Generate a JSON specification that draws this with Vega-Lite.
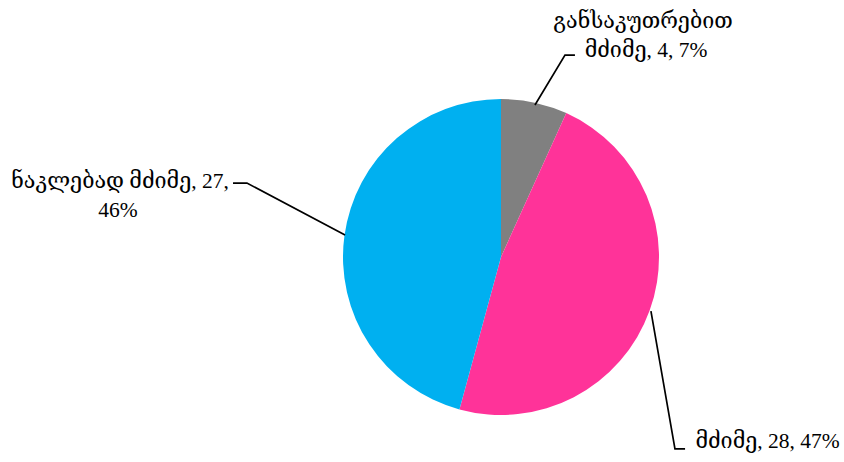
{
  "$schema": "https://vega.github.io/schema/vega-lite/v6.json",
  "width": 316,
  "height": 316,
  "autosize": {"type": "none"},
  "padding": {"left": 343, "top": 99, "right": 185, "bottom": 47},
  "background": "white",
  "config": {"view": {"stroke": null}},
  "datasets": {
    "slices": [
      {"category": "განსაკუთრებით მძიმე", "value": 4, "ord": 1},
      {"category": "მძიმე", "value": 28, "ord": 2},
      {"category": "ნაკლებად მძიმე", "value": 27, "ord": 3}
    ],
    "leaders": [
      {"series": "g", "idx": 1, "px": 0.215, "py": 0.962},
      {"series": "g", "idx": 2, "px": 0.405, "py": 1.278},
      {"series": "g", "idx": 3, "px": 0.468, "py": 1.278},
      {"series": "b", "idx": 1, "px": -0.987, "py": 0.139},
      {"series": "b", "idx": 2, "px": -1.608, "py": 0.468},
      {"series": "b", "idx": 3, "px": -1.696, "py": 0.468},
      {"series": "p", "idx": 1, "px": 0.949, "py": -0.342},
      {"series": "p", "idx": 2, "px": 1.101, "py": -1.215},
      {"series": "p", "idx": 3, "px": 1.165, "py": -1.215}
    ],
    "labels": [
      {"text": "განსაკუთრებით", "px": 0.899, "py": 1.449},
      {"text": "მძიმე, 4, 7%", "px": 0.918, "py": 1.266},
      {"text": "ნაკლებად მძიმე, 27,", "px": -2.411, "py": 0.437},
      {"text": "46%", "px": -2.424, "py": 0.253},
      {"text": "მძიმე, 28, 47%", "px": 1.687, "py": -1.209}
    ]
  },
  "layer": [
    {
      "data": {"name": "slices"},
      "mark": {"type": "arc", "outerRadius": 158},
      "encoding": {
        "theta": {"field": "value", "type": "quantitative", "stack": true},
        "order": {"field": "ord", "type": "quantitative"},
        "color": {
          "field": "category",
          "type": "nominal",
          "legend": null,
          "scale": {
            "domain": ["განსაკუთრებით მძიმე", "მძიმე", "ნაკლებად მძიმე"],
            "range": ["#808080", "#FF3399", "#00B0F0"]
          }
        }
      }
    },
    {
      "data": {"name": "leaders"},
      "mark": {"type": "line", "color": "black", "strokeWidth": 1.7},
      "encoding": {
        "x": {"field": "px", "type": "quantitative", "axis": null, "scale": {"domain": [-1, 1], "nice": false, "zero": false}},
        "y": {"field": "py", "type": "quantitative", "axis": null, "scale": {"domain": [-1, 1], "nice": false, "zero": false}},
        "detail": {"field": "series"},
        "order": {"field": "idx", "type": "quantitative"}
      }
    },
    {
      "data": {"name": "labels"},
      "mark": {"type": "text", "align": "center", "baseline": "alphabetic", "fontSize": 21.5, "font": "Liberation Serif, DejaVu Serif", "color": "black"},
      "encoding": {
        "x": {"field": "px", "type": "quantitative", "axis": null, "scale": {"domain": [-1, 1], "nice": false, "zero": false}},
        "y": {"field": "py", "type": "quantitative", "axis": null, "scale": {"domain": [-1, 1], "nice": false, "zero": false}},
        "text": {"field": "text"}
      }
    }
  ]
}
